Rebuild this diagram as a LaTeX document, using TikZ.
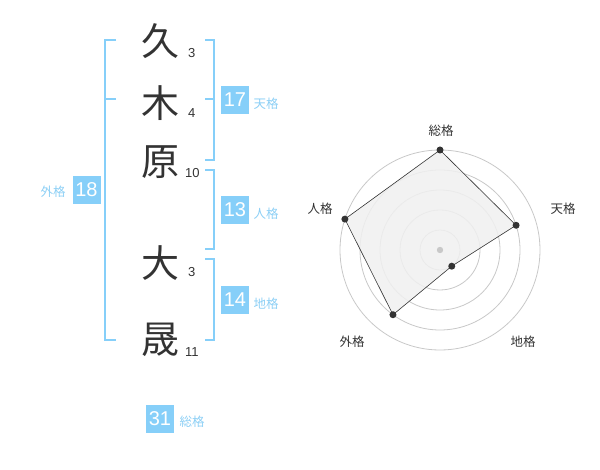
\documentclass[tikz,border=0pt]{standalone}
\usepackage{fontspec}
\usetikzlibrary{calc}
\setmainfont{Liberation Sans}
\newfontfamily\cjk{Noto Sans CJK JP}
\definecolor{boxblue}{HTML}{86CFF9}
\definecolor{lblblue}{HTML}{8CCFF5}
\definecolor{ink}{HTML}{333333}
\definecolor{ringgray}{HTML}{C8C8C8}
\definecolor{fillgray}{HTML}{F0F0F0}
\begin{document}
\begin{tikzpicture}[x=1pt,y=-1pt,
  bigchar/.style={font=\cjk\fontsize{38}{38}\selectfont, text=ink, inner sep=0pt},
  strokes/.style={font=\fontsize{13}{13}\selectfont, text=ink, inner sep=0pt, anchor=west},
  numbox/.style={fill=boxblue, text=white, minimum width=28pt, minimum height=28pt, inner sep=0pt, font=\fontsize{20}{20}\selectfont},
  kaku/.style={font=\cjk\fontsize{12.5}{12.5}\selectfont, text=lblblue, inner sep=0pt},
  bracket/.style={draw=boxblue, line width=1.8pt},
  ring/.style={draw=ringgray, line width=0.8pt},
  axlabel/.style={font=\cjk\fontsize{12.5}{12.5}\selectfont, text=ink, inner sep=0pt},
  dot/.style={circle, fill=ink, inner sep=0pt, minimum size=7pt}
]
\useasboundingbox (0,0) rectangle (600,470);
% characters
\node[bigchar] (c1) at (160,41) {久};
\node[bigchar] (c2) at (160,103) {木};
\node[bigchar] (c3) at (160,162) {原};
\node[bigchar] (c4) at (160,263) {大};
\node[bigchar] (c5) at (160,340) {晟};
\node[strokes] (s1) at (188,53) {3};
\node[strokes] (s2) at (188,113) {4};
\node[strokes] (s3) at (185,173) {10};
\node[strokes] (s4) at (188,272) {3};
\node[strokes] (s5) at (185,352) {11};
% left bracket
\draw[bracket] (116,40) -- (105,40) -- (105,340) -- (116,340);
\draw[bracket] (105,99) -- (116,99);
% right brackets
\draw[bracket] (205,40) -- (214,40) -- (214,160) -- (205,160);
\draw[bracket] (205,99) -- (214,99);
\draw[bracket] (205,170) -- (214,170) -- (214,249) -- (205,249);
\draw[bracket] (205,259) -- (214,259) -- (214,340) -- (205,340);
% boxes
\node[numbox] (gai) at (86.5,190) {18};
\node[kaku] (gaiL) at (53,192) {外格};
\node[numbox] (ten) at (235,100) {17};
\node[kaku] (tenL) at (266,104) {天格};
\node[numbox] (jin) at (235,210) {13};
\node[kaku] (jinL) at (266,214) {人格};
\node[numbox] (chi) at (235,300) {14};
\node[kaku] (chiL) at (266,304) {地格};
\node[numbox] (sou) at (160,419) {31};
\node[kaku] (souL) at (192,422) {総格};
% radar
\coordinate (O) at (440,250);
\foreach \r in {20,40,60,80,100} \draw[ring] (O) circle[radius=\r];
\coordinate (pS) at ($(O)+(-90:100)$);
\coordinate (pT) at ($(O)+(-18:80)$);
\coordinate (pC) at ($(O)+(54:20)$);
\coordinate (pG) at ($(O)+(126:80)$);
\coordinate (pJ) at ($(O)+(198:100)$);
\draw[ink, line width=0.6pt, fill=fillgray, fill opacity=0.85] (pS) -- (pT) -- (pC) -- (pG) -- (pJ) -- cycle;
\fill[ringgray] (O) circle[radius=3.2];
\foreach \p in {pS,pT,pC,pG,pJ} \node[dot] at (\p) {};
\node[axlabel] (aS) at (441,131) {総格};
\node[axlabel] (aT) at (563,209) {天格};
\node[axlabel] (aC) at (523,342) {地格};
\node[axlabel] (aG) at (352,342) {外格};
\node[axlabel] (aJ) at (320,209) {人格};
\end{tikzpicture}
\end{document}
